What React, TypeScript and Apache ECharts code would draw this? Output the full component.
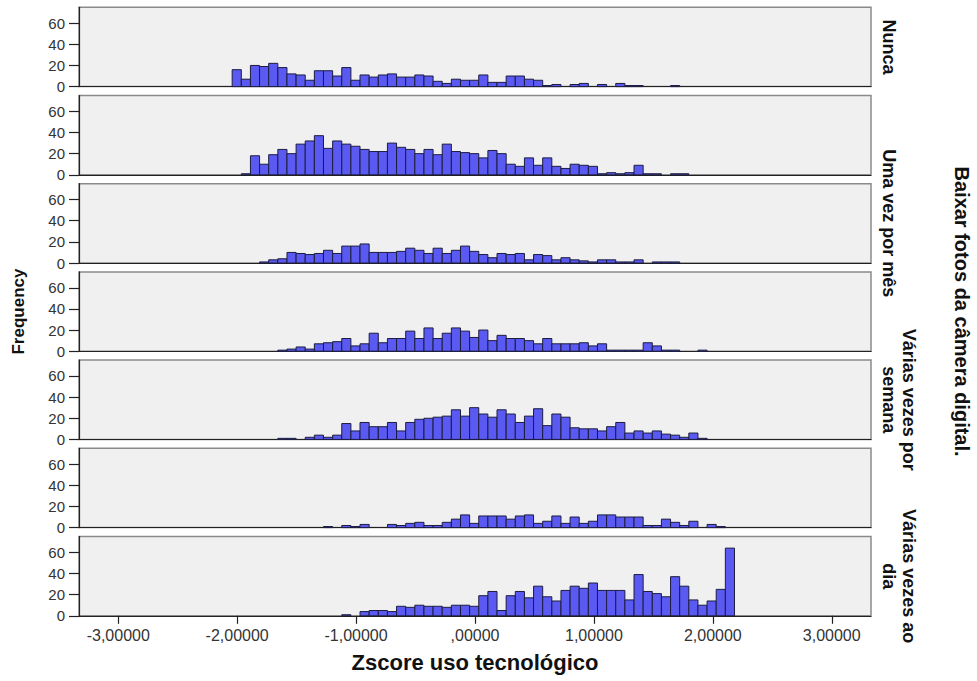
import { useEffect, useRef } from "react";
import * as echarts from "echarts";

// Histogram binning (shared by all panels)
const BIN_START = -2.042;
const BIN_WIDTH = 0.0768;

// Row (panel) labels; empty = label hidden in the original
const panelLabels = [
  "Nunca",
  "",
  "Uma vez por mês",
  "",
  "Várias vezes por\nsemana",
  "",
  "Várias vezes ao\ndia",
];

// Counts per bin (55 bins) for each panel, top to bottom
const panel1 = [16, 7, 20, 19, 22, 18, 12, 11, 6, 15, 15, 10, 18, 6, 11, 9, 11, 12, 9, 9, 11, 10, 5, 3, 7, 6, 6, 11, 4, 4, 10, 10, 7, 6, 1, 2, 0, 2, 3, 0, 2, 0, 3, 1, 1, 0, 0, 0, 1, 0, 0, 0, 0, 0, 0];
const panel2 = [0, 1, 18, 10, 19, 24, 20, 29, 32, 37, 25, 32, 29, 27, 24, 22, 22, 30, 26, 24, 20, 24, 19, 29, 22, 21, 20, 16, 23, 20, 10, 8, 16, 9, 16, 8, 6, 10, 9, 8, 1, 2, 1, 2, 9, 1, 1, 0, 1, 1, 0, 0, 0, 0, 0];
const panel3 = [0, 0, 0, 1, 3, 4, 10, 9, 8, 9, 12, 9, 16, 16, 18, 10, 10, 10, 11, 14, 12, 9, 14, 9, 12, 16, 11, 8, 5, 9, 8, 9, 3, 8, 7, 3, 5, 3, 2, 1, 3, 3, 1, 1, 3, 0, 1, 1, 1, 0, 0, 0, 0, 0, 0];
const panel4 = [0, 0, 0, 0, 0, 1, 2, 4, 2, 7, 8, 9, 12, 5, 7, 17, 8, 12, 12, 19, 12, 22, 12, 17, 22, 19, 13, 20, 10, 15, 12, 12, 10, 7, 12, 7, 7, 7, 8, 5, 7, 1, 1, 1, 1, 8, 5, 1, 1, 0, 0, 1, 0, 0, 0];
const panel5 = [0, 0, 0, 0, 0, 1, 1, 0, 2, 4, 2, 4, 15, 8, 16, 12, 12, 16, 8, 16, 19, 20, 21, 22, 28, 22, 30, 24, 21, 28, 24, 16, 22, 29, 13, 24, 21, 11, 10, 10, 8, 12, 16, 6, 8, 6, 8, 5, 4, 2, 6, 1, 0, 0, 0];
const panel6 = [0, 0, 0, 0, 0, 0, 0, 0, 0, 0, 1, 0, 2, 1, 3, 0, 0, 3, 2, 4, 5, 2, 2, 5, 8, 12, 4, 11, 11, 11, 8, 11, 12, 4, 6, 11, 4, 10, 4, 6, 12, 12, 10, 10, 10, 2, 2, 8, 5, 2, 6, 0, 3, 1, 0];
const panel7 = [0, 0, 0, 0, 0, 0, 0, 0, 0, 0, 0, 0, 1, 0, 4, 5, 5, 4, 9, 8, 10, 9, 9, 8, 10, 10, 9, 19, 23, 5, 19, 23, 17, 28, 18, 14, 24, 28, 26, 31, 24, 24, 24, 15, 39, 23, 21, 18, 37, 28, 15, 10, 14, 25, 64];

const panels = [panel1, panel2, panel3, panel4, panel5, panel6, panel7];

const xTicks = [-3, -2, -1, 0, 1, 2, 3];
const yTicks = [0, 20, 40, 60];

const X_MIN = -3.33;
const X_MAX = 3.33;
const Y_MAX = 75;

const FONT = '"Liberation Sans", Arial, sans-serif';

export default function App() {
  const ref = useRef<HTMLDivElement>(null);

  useEffect(() => {
    if (!ref.current) return;
    const chart = echarts.init(ref.current, undefined, { renderer: "svg" });

    const GRID_LEFT = 79;
    const GRID_RIGHT = 106;
    const TOP0 = 7.3;
    const STEP = 88.2;
    const H = 79.3;
    const n = panels.length;

    const grids: any[] = [];
    const xAxes: any[] = [];
    const yAxes: any[] = [];
    const series: any[] = [];
    const graphics: any[] = [];

    const fmtX = (v: number) => {
      if (v === 0) return ",00000";
      return v.toFixed(5).replace(".", ",");
    };

    panels.forEach((counts, k) => {
      const last = k === n - 1;
      grids.push({
        left: GRID_LEFT,
        right: GRID_RIGHT,
        top: TOP0 + STEP * k,
        height: H,
        show: true,
        backgroundColor: "#f0f0f0",
        borderColor: "#8a8a8a",
        borderWidth: 1.5,
      });
      xAxes.push({
        type: "value",
        gridIndex: k,
        min: X_MIN,
        max: X_MAX,
        splitLine: { show: false },
        axisLine: { show: true, onZero: false, lineStyle: { color: "#222", width: 1.2 } },
        axisTick: {
          show: last,
          customValues: xTicks,
          length: 8,
          lineStyle: { color: "#222", width: 1.2 },
        },
        axisLabel: {
          show: last,
          customValues: xTicks,
          formatter: fmtX,
          margin: 12,
          fontSize: 16,
          fontFamily: FONT,
          color: "#333",
        },
        name: last ? "Zscore uso tecnológico" : "",
        nameLocation: "middle",
        nameGap: 36,
        nameTextStyle: { fontSize: 22, fontWeight: "bold", fontFamily: FONT, color: "#111" },
      });
      yAxes.push({
        type: "value",
        gridIndex: k,
        min: 0,
        max: Y_MAX,
        splitLine: { show: false },
        axisLine: { show: true, onZero: false, lineStyle: { color: "#222", width: 1.2 } },
        axisTick: {
          show: true,
          customValues: yTicks,
          length: 10,
          lineStyle: { color: "#222", width: 1.2 },
        },
        axisLabel: {
          show: true,
          customValues: yTicks,
          margin: 14,
          fontSize: 15,
          fontFamily: FONT,
          color: "#333",
        },
      });
      const data = counts
        .map((c, i) => [BIN_START + i * BIN_WIDTH, BIN_START + (i + 1) * BIN_WIDTH, c])
        .filter((d) => d[2] > 0);
      series.push({
        type: "custom",
        xAxisIndex: k,
        yAxisIndex: k,
        data,
        encode: { x: [0, 1], y: 2 },
        renderItem: (_p: any, api: any) => {
          const x0 = api.value(0);
          const x1 = api.value(1);
          const c = api.value(2);
          const a = api.coord([x0, c]);
          const b = api.coord([x1, 0]);
          return {
            type: "rect",
            shape: { x: a[0], y: a[1], width: b[0] - a[0], height: b[1] - a[1] },
            style: { fill: "#5a5af2", stroke: "#1c1c40", lineWidth: 1 },
          };
        },
      });

      const label = panelLabels[k];
      if (label) {
        const lines = label.split("\n").length;
        graphics.push({
          type: "text",
          x: 889 + (lines - 1) * 10,
          y: TOP0 + STEP * k + H / 2,
          rotation: -Math.PI / 2,
          style: {
            text: label,
            font: `bold 18px ${FONT}`,
            fill: "#111",
            align: "center",
            verticalAlign: "middle",
            lineHeight: 20,
          },
        });
      }
    });

    const stackCenter = TOP0 + (STEP * (n - 1) + H) / 2;
    graphics.push({
      type: "text",
      x: 18,
      y: stackCenter,
      rotation: Math.PI / 2,
      style: {
        text: "Frequency",
        font: `bold 17px ${FONT}`,
        fill: "#111",
        align: "center",
        verticalAlign: "middle",
      },
    });
    graphics.push({
      type: "text",
      x: 962,
      y: stackCenter,
      rotation: -Math.PI / 2,
      style: {
        text: "Baixar fotos da câmera digital.",
        font: `bold 20px ${FONT}`,
        fill: "#111",
        align: "center",
        verticalAlign: "middle",
      },
    });

    chart.setOption({
      animation: false,
      backgroundColor: "#ffffff",
      grid: grids,
      xAxis: xAxes,
      yAxis: yAxes,
      series,
      graphic: graphics,
    });

    return () => chart.dispose();
  }, []);

  return (
    <div
      ref={ref}
      style={{ position: "absolute", left: 0, top: 0, width: 977, height: 681 }}
    />
  );
}
